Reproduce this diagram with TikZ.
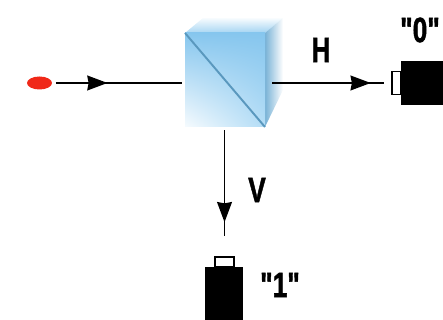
\documentclass[tikz,border=0pt]{standalone}
\usepackage{fontspec}
\newfontfamily\labelfont{Liberation Sans}[BoldFeatures={FakeBold=1.6}]
\usetikzlibrary{arrows.meta,decorations.markings,shapes.geometric,shadings}
\definecolor{cubeblue}{HTML}{86C6EE}
\definecolor{cubepale}{HTML}{F6FBFE}
\definecolor{cubemid}{HTML}{B4DDF6}
\definecolor{cubeedge}{HTML}{5A98BE}
\definecolor{sourcered}{HTML}{F02818}
\tikzset{
	flow/.style={draw, line width=0.8pt, postaction={decorate},
		decoration={markings, mark=at position #1 with {\arrow{Stealth[length=11.5pt, width=8.5pt, inset=0.8pt]}}}},
	beamtext/.style={font=\labelfont\bfseries\fontsize{20}{20}\selectfont, inner sep=0pt, xscale=0.75, transform shape},
	window/.style={draw, fill=white, line width=0.6pt, inner sep=0pt}
}
\begin{document}
\begin{tikzpicture}[x=0.02cm, y=-0.02cm]
			\useasboundingbox (0,0) rectangle (443,320);
			\node[ellipse, fill=sourcered, minimum width=25*0.02cm, minimum height=13*0.02cm, inner sep=0pt, outer sep=2.2pt] (source) at (39.5,83) {};
			\node[minimum width=90*0.02cm, minimum height=94*0.02cm, inner sep=0pt] (cube) at (227,83) {};
			\shade[upper left=cubepale, upper right=cubepale!60!white, lower left=cubeblue!70!white, lower right=cubeblue!80!white] (185,33) -- (203,18) -- (283,18) -- (265,33) -- cycle;
			\shade[left color=cubeblue!90!black, right color=white] (265,33) -- (283,18) -- (283,90) -- (265,127) -- cycle;
			\shade[upper left=cubeblue, upper right=cubeblue, lower left=cubepale, lower right=cubemid] (185,33) rectangle (265,127);
			\draw[cubeedge, line width=1.1pt] (185,33) -- (265,127);
			\node[fill=black, minimum width=42*0.02cm, minimum height=44*0.02cm, inner sep=0pt] (det0) at (422,83) {};
			\node[window, minimum width=9*0.02cm, minimum height=23*0.02cm, outer sep=4.5pt] (win0) at (396.5,83) {};
			\node[fill=black, minimum width=38*0.02cm, minimum height=54*0.02cm, inner sep=0pt] (det1) at (224,294) {};
			\node[window, minimum width=19*0.02cm, minimum height=10*0.02cm, outer sep=12pt] (win1) at (224.5,262) {};
			\draw[flow=0.41] (source) -- (cube);
			\draw[flow=0.88] (cube) -- (win0);
			\draw[flow=0.87] (cube.south -| win1) -- (win1);
			\node[beamtext] (labelH) at (321,50) {H};
			\node[beamtext] (labelV) at (257,190) {V};
			\node[beamtext] (label0) at (420,30) {"0"};
			\node[beamtext] (label1) at (280,285) {"1"};
		\end{tikzpicture}
\end{document}
